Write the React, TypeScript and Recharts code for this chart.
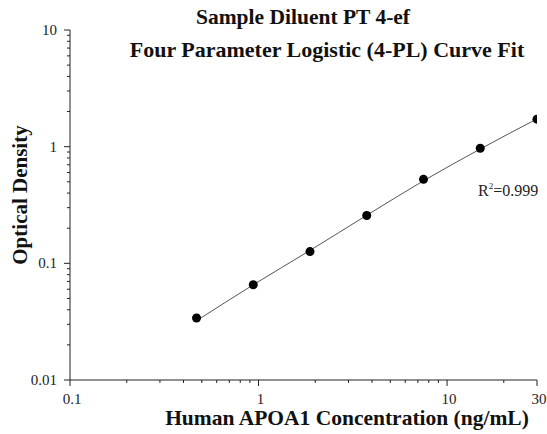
import React from "react";
import {
  ComposedChart,
  XAxis,
  YAxis,
  Scatter,
  Line,
} from "recharts";

// standard concentrations (ng/mL) and measured OD
const concentrations = [0.469, 0.938, 1.875, 3.75, 7.5, 15, 30];
const odValues = [0.034, 0.0656, 0.126, 0.257, 0.525, 0.969, 1.72];

// fitted 4-PL curve
const curveX = [0.469, 0.938, 1.875, 3.75, 7.5, 15, 30];
const curveY = [0.0322, 0.0655, 0.129, 0.258, 0.51, 0.955, 1.73];

const xTicks = [
  0.1, 0.2, 0.3, 0.4, 0.5, 0.6, 0.7, 0.8, 0.9,
  1, 2, 3, 4, 5, 6, 7, 8, 9,
  10, 20, 30,
];
const xMajor = [0.1, 1, 10, 30];

const yTicks = [
  0.01, 0.02, 0.03, 0.04, 0.05, 0.06, 0.07, 0.08, 0.09,
  0.1, 0.2, 0.3, 0.4, 0.5, 0.6, 0.7, 0.8, 0.9,
  1, 2, 3, 4, 5, 6, 7, 8, 9,
  10,
];
const yMajor = [0.01, 0.1, 1, 10];

const points = concentrations.map((x, i) => ({ x, y: odValues[i] }));
const curve = curveX.map((x, i) => ({ x, y: curveY[i] }));

const serif = "'Liberation Serif', 'Times New Roman', serif";

const XTick = (props: any) => {
  const { x, y, payload } = props;
  const major = xMajor.includes(payload.value);
  return (
    <g>
      <line x1={x} y1={y} x2={x} y2={y + (major ? 6 : 3)} stroke="#222" />
      {major && (
        <text x={x + 2} y={y + 24} textAnchor="middle" fontFamily={serif} fontSize={15} fill="#222">
          {payload.value}
        </text>
      )}
    </g>
  );
};

const YTick = (props: any) => {
  const { x, y, payload } = props;
  const major = yMajor.includes(payload.value);
  return (
    <g>
      <line x1={x} y1={y} x2={x - (major ? 6 : 3)} y2={y} stroke="#222" />
      {major && (
        <text x={x - 13} y={y + 5} textAnchor="end" fontFamily={serif} fontSize={15} fill="#222">
          {payload.value}
        </text>
      )}
    </g>
  );
};

export default function App() {
  return (
    <div style={{ position: "absolute", left: 0, top: 0, width: 547, height: 434, background: "#fff" }}>
      <ComposedChart
        width={547}
        height={434}
        margin={{ top: 30, right: 10, bottom: 0, left: 0 }}
      >
        <XAxis
          dataKey="x"
          type="number"
          scale="log"
          domain={[0.1, 30]}
          ticks={xTicks}
          interval={0}
          allowDataOverflow
          height={54}
          tickSize={0}
          tickMargin={0}
          tickLine={false}
          tick={<XTick />}
          stroke="#222"
        />
        <YAxis
          dataKey="y"
          type="number"
          scale="log"
          domain={[0.01, 10]}
          ticks={yTicks}
          interval={0}
          allowDataOverflow
          width={70}
          tickSize={0}
          tickMargin={0}
          tickLine={false}
          tick={<YTick />}
          stroke="#222"
        />
        <Line
          data={curve}
          dataKey="y"
          type="monotone"
          stroke="#555"
          strokeWidth={1}
          dot={false}
          isAnimationActive={false}
        />
        <Scatter
          data={points}
          dataKey="y"
          fill="#000"
          shape={(p: any) => <circle cx={p.cx} cy={p.cy} r={4.5} fill="#000" />}
          isAnimationActive={false}
        />
      </ComposedChart>

      <div style={{ position: "absolute", left: 0, top: 5, width: 606, textAlign: "center", fontFamily: serif, fontWeight: "bold", fontSize: 21.5, lineHeight: "25px", color: "#111" }}>
        Sample Diluent PT 4-ef
      </div>
      <div style={{ position: "absolute", left: 0, top: 37, width: 654, textAlign: "center", fontFamily: serif, fontWeight: "bold", fontSize: 22, lineHeight: "25px", color: "#111" }}>
        Four Parameter Logistic (4-PL) Curve Fit
      </div>
      <div style={{ position: "absolute", left: 0, top: 406, width: 694, textAlign: "center", fontFamily: serif, fontWeight: "bold", fontSize: 21.5, lineHeight: "25px", color: "#111" }}>
        Human APOA1 Concentration (ng/mL)
      </div>
      <div
        style={{
          position: "absolute",
          left: 20,
          top: 195,
          transform: "translate(-50%, -50%) rotate(-90deg)",
          whiteSpace: "nowrap",
          fontFamily: serif,
          fontWeight: "bold",
          fontSize: 21,
          color: "#111",
        }}
      >
        Optical Density
      </div>
      <div style={{ position: "absolute", left: 478, top: 182, fontFamily: serif, fontSize: 16, lineHeight: "18px", color: "#222", whiteSpace: "nowrap" }}>
        R<span style={{ fontSize: 9, position: "relative", top: -7 }}>2</span>=0.999
      </div>
    </div>
  );
}
